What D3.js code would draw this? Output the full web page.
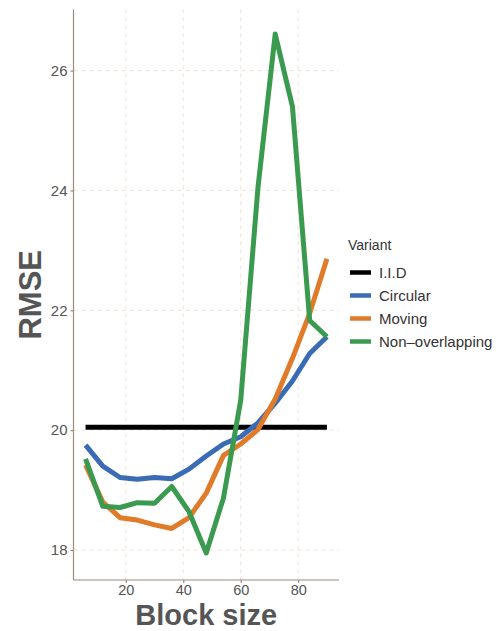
<!DOCTYPE html>
<html>
<head>
<meta charset="utf-8">
<script src="https://cdn.jsdelivr.net/npm/d3@7"></script>
<style>
  html, body { margin: 0; padding: 0; background: #ffffff; }
  svg { display: block; font-family: "Liberation Sans", Arial, sans-serif; }
</style>
</head>
<body>
<svg id="chart" width="501" height="631"></svg>
<script>
const blockSizes = [6, 12, 18, 24, 30, 36, 42, 48, 54, 60, 66, 72, 78, 84, 90];
const iidValues = [20.05, 20.05, 20.05, 20.05, 20.05, 20.05, 20.05, 20.05, 20.05, 20.05, 20.05, 20.05, 20.05, 20.05, 20.05];
const circularValues = [19.75, 19.40, 19.21, 19.18, 19.21, 19.19, 19.35, 19.57, 19.77, 19.89, 20.12, 20.45, 20.82, 21.28, 21.56];
const movingValues = [19.42, 18.80, 18.54, 18.50, 18.42, 18.36, 18.54, 18.95, 19.58, 19.77, 20.01, 20.52, 21.20, 21.95, 22.86];
const nonOverlappingValues = [19.52, 18.73, 18.71, 18.79, 18.78, 19.06, 18.64, 17.95, 18.87, 20.50, 24.05, 26.61, 25.40, 21.83, 21.56];
const seriesNames = ["I.I.D", "Circular", "Moving", "Non\u2013overlapping"];
const seriesColors = ["#000000", "#3a6bb5", "#e07b2a", "#3a9a4f"];
const xTicks = [20, 40, 60, 80];
const yTicks = [18, 20, 22, 24, 26];

(function () {
const series = [iidValues, circularValues, movingValues, nonOverlappingValues].map((vals, i) => ({
  name: seriesNames[i], color: seriesColors[i],
  points: blockSizes.map((b, j) => ({ x: b, y: vals[j] }))
}));

const svg = d3.select("#chart");
const pLeft = 73.5, pRight = 339, pTop = 9.5, pBottom = 580;

const x = d3.scaleLinear().domain([1.8, 94.2]).range([pLeft, pRight]);
const y = d3.scaleLinear().domain([17.5, 27.02]).range([pBottom, pTop]);

const gridColor = "#efe3d6";
const axisColor = "#9c8c7c";
const textColor = "#555555";

// grid
svg.append("g").selectAll("line").data(xTicks).join("line")
  .attr("x1", d => x(d)).attr("x2", d => x(d))
  .attr("y1", pTop).attr("y2", pBottom)
  .attr("stroke", gridColor).attr("stroke-width", 1).attr("stroke-dasharray", "4,4");
svg.append("g").selectAll("line").data(yTicks).join("line")
  .attr("x1", pLeft).attr("x2", pRight)
  .attr("y1", d => y(d)).attr("y2", d => y(d))
  .attr("stroke", gridColor).attr("stroke-width", 1).attr("stroke-dasharray", "4,4");

// lines
const line = d3.line().x(d => x(d.x)).y(d => y(d.y));
svg.append("g").selectAll("path").data(series).join("path")
  .attr("d", d => line(d.points))
  .attr("fill", "none")
  .attr("stroke", d => d.color)
  .attr("stroke-width", 5)
  .attr("stroke-linejoin", "round")
  .attr("stroke-linecap", "butt");

// axes
const xAxis = d3.axisBottom(x).tickValues(xTicks).tickSize(3).tickPadding(1.5);
const yAxis = d3.axisLeft(y).tickValues(yTicks).tickSize(3).tickPadding(3);

const gx = svg.append("g").attr("transform", `translate(0,${pBottom})`).call(xAxis);
const gy = svg.append("g").attr("transform", `translate(${pLeft},0)`).call(yAxis);
gx.select(".domain").attr("d", `M${pLeft},0H${pRight}`);
gy.select(".domain").attr("d", `M0,${pTop}V${pBottom}`);
[gx, gy].forEach(g => {
  g.select(".domain").attr("stroke", axisColor).attr("stroke-width", 1.2);
  g.selectAll(".tick line").attr("stroke", axisColor).attr("stroke-width", 1.2);
  g.selectAll(".tick text").attr("fill", textColor).attr("font-size", 15)
    .attr("font-family", "Liberation Sans, Arial, sans-serif");
});
gx.selectAll(".tick text").attr("font-size", 14.5);

// axis titles
svg.append("text")
  .attr("x", (pLeft + pRight) / 2).attr("y", 624.5)
  .attr("text-anchor", "middle")
  .attr("font-size", 29).attr("font-weight", "bold").attr("fill", textColor)
  .text("Block size");
svg.append("text")
  .attr("transform", `translate(41,${(pTop + pBottom) / 2}) rotate(-90)`)
  .attr("text-anchor", "middle")
  .attr("font-size", 31).attr("font-weight", "bold").attr("fill", textColor)
  .text("RMSE");

// legend
const lg = svg.append("g");
lg.append("text").attr("x", 348).attr("y", 250)
  .attr("font-size", 14).attr("fill", "#333333").text("Variant");
const items = lg.selectAll("g").data(series).join("g")
  .attr("transform", (d, i) => `translate(0,${272.5 + i * 23})`);
items.append("line").attr("x1", 350).attr("x2", 371).attr("y1", 0).attr("y2", 0)
  .attr("stroke", d => d.color).attr("stroke-width", 4.5);
items.append("text").attr("x", 379).attr("y", 5.5)
  .attr("font-size", 15).attr("fill", "#333333").text(d => d.name);
})();
</script>
</body>
</html>
